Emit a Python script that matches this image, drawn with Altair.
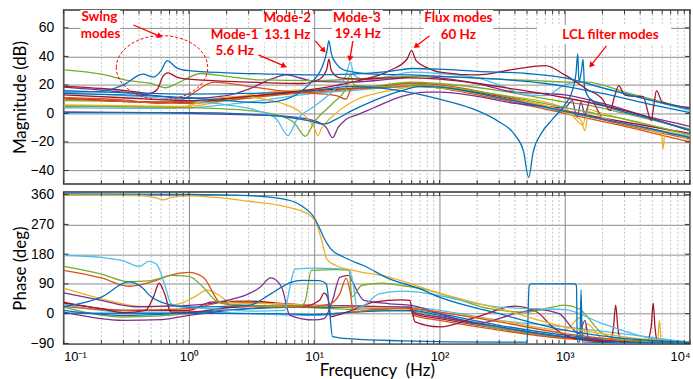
import altair as alt
import pandas as pd

BLUE, ORANGE, YELLOW, PURPLE = "#0072BD", "#D95319", "#EDB120", "#7E2F8E"
GREEN, CYAN, RED = "#77AC30", "#4DBEEE", "#A2142F"
ANN = "#FF0000"

# ---------------- magnitude curves: (frequency Hz, dB) ----------------
MAG_BLUE_A = [(0.1,15),(0.2,15.5),(0.3,20),(0.43,27.5),(0.52,25.5),(0.6,30),(0.67,37),(0.8,32),(1,30),(2,28.5),(5,27.5),(10,27),(20,27.5),(40,29.5),(60,31.5),(100,31),(200,29.5),(500,28),(1000,25),(2000,18),(5000,9),(10000,3)]
MAG_BLUE_B = [(0.1,14),(0.3,13),(1,11),(2,9),(4,7.5),(6,10),(9,20),(11.5,32),(12.6,43),(13.1,51),(13.7,42),(15,35),(18,30),(30,27.5),(60,27),(100,26),(300,24),(700,21),(1000,19),(2000,14),(5000,6),(10000,0.5)]
MAG_RED_A = [(0.1,19),(0.2,17.5),(0.35,15.5),(0.48,14),(0.56,17),(0.62,26),(0.68,28.5),(0.8,25.5),(1,24),(3,22),(8,21),(11,24),(12.6,31),(13.1,38),(13.7,30),(16,25),(25,24),(40,25),(60,25),(100,24),(200,21),(400,17),(1000,11),(3000,2),(10000,-12)]
MAG_RED_B = [(0.1,13),(0.3,11),(1,9),(3,12),(10,17),(20,22),(40,30),(55,38),(60,44),(65,37),(80,32),(100,29),(200,27),(400,31),(700,33.5),(1000,27),(1500,17),(2000,10),(2300,2),(2500,12),(2700,19.5),(3000,13),(3500,12),(4200,12),(4900,-5),(5150,6),(5400,16),(6000,8),(10000,4)]
MAG_GREEN_A = [(0.1,30.5),(0.2,27.5),(0.33,23),(0.5,21),(0.65,18),(0.8,21),(1.25,28),(2,26),(3.7,23.5),(10,23),(20,24),(60,26),(100,26),(300,24),(600,23),(1000,22),(1500,22),(3000,15),(10000,3)]
MAG_CYAN_A = [(0.1,14),(0.3,12.5),(1,9),(2,6),(3.5,2),(5,-4),(6.2,-15.5),(7.2,-5),(10,5),(15,18),(18,27),(19.4,36),(20.8,27),(25,24),(40,26),(60,29),(100,28),(200,25),(300,20),(500,13),(700,12.5),(1000,20),(1300,22),(2000,18),(5000,9),(10000,2)]
MAG_GREEN_B = [(0.1,5),(0.5,4.5),(1,4),(3,2),(5,-1),(7,-7),(8.5,-16),(10,-6),(14,7),(18,18),(19.4,27),(20.8,20),(25,19),(40,19),(70,20),(100,19),(300,13),(1000,4),(3000,-4),(10000,-15)]
MAG_YELLOW_A = [(0.1,5.5),(0.5,4.5),(0.8,4),(1.5,10),(2.5,12),(4,10),(6,6),(8,0),(10,-10),(10.7,-15.5),(11.5,-10),(14,-2),(20,8),(40,16),(70,19),(100,18),(300,11),(1000,1),(1350,-5),(1450,-12),(1550,1),(2000,-3),(5000,-12),(5900,-14),(6100,-25),(6300,-13),(10000,-19)]
MAG_BLUE_C = [(0.1,0.5),(1,0.5),(3,-0.5),(6,-2.5),(9,-5),(12,-7.5),(15,-4),(20,2),(30,9),(50,16),(70,19),(100,18.5),(300,11),(1000,1.5),(3000,-7),(10000,-17)]
MAG_PURPLE_A = [(0.1,18.5),(0.3,15),(0.6,12),(1,10.5),(2,12.5),(3,17),(4.5,24),(6,27),(8,24.5),(10,22.5),(20,22),(40,24),(70,26),(100,25),(200,21),(400,15),(700,14),(1000,13),(2000,7),(5000,-3),(10000,-9)]
MAG_PURPLE_B = [(0.1,1),(0.5,0.5),(1,0),(3,-1),(6,-2),(10,-5),(12.5,-10),(14,-17),(15.5,-10),(18,-4),(22,-1),(30,4),(50,12),(80,15),(100,15),(200,12),(400,7),(700,5),(1000,4),(1150,9),(1250,-3),(1350,8),(1450,-1),(1600,10),(2000,-3),(5000,-11),(10000,-17)]
MAG_ORANGE_A = [(0.1,11),(0.3,9.5),(0.6,7),(0.9,10),(1.6,22),(3,19),(6,15.5),(10,14),(15,12.5),(18,10),(19.4,16),(21,19),(30,19),(60,21),(100,20),(300,12.5),(1000,2),(3000,-8),(10000,-18)]
MAG_ORANGE_B = [(0.1,10),(0.3,8.5),(1,7),(2,9),(4,12),(10,15),(20,17),(50,19),(70,20),(100,18),(300,10),(1000,0),(3000,-9),(10000,-20)]
MAG_CYAN_B = [(0.1,4),(0.5,3.5),(1,4),(3,8),(10,14),(20,16),(60,19),(100,18),(300,11),(1000,1),(3000,-7),(10000,-16)]
MAG_RED_C = [(0.1,11),(0.5,8),(1,8),(3,12),(10,16),(30,18),(60,19),(100,18),(300,12),(1000,2),(3000,-6),(10000,-14)]
MAG_BLUE_D = [(0.1,16),(0.5,14),(1,13.5),(3,14),(10,16),(20,19),(40,17),(100,10),(200,2),(300,-6),(400,-15),(470,-27),(515,-45),(560,-27),(650,-14),(800,-4),(1000,6),(1150,16),(1230,28),(1270,42),(1300,22),(1360,30),(1400,38),(1440,18),(1600,10),(2000,6),(5000,-4),(10000,-12)]
MAG_YELLOW_B = [(0.1,6),(1,5),(1.5,7),(3,13),(10,17),(30,18),(60,19),(100,18),(300,13),(1000,4),(1400,-8),(1500,3),(2000,0),(5000,-9),(10000,-15)]
MAG_GREEN_C = [(0.1,9),(1,8),(3,11),(10,16),(30,19),(60,22),(100,21),(300,16),(1000,8),(1500,6),(3000,0),(10000,-11)]

MAG_CURVES = [
    (GREEN, MAG_GREEN_C), (YELLOW, MAG_YELLOW_B), (RED, MAG_RED_C), (CYAN, MAG_CYAN_B),
    (ORANGE, MAG_ORANGE_B), (ORANGE, MAG_ORANGE_A), (PURPLE, MAG_PURPLE_B), (PURPLE, MAG_PURPLE_A),
    (YELLOW, MAG_YELLOW_A), (GREEN, MAG_GREEN_B), (CYAN, MAG_CYAN_A), (GREEN, MAG_GREEN_A),
    (RED, MAG_RED_A), (BLUE, MAG_BLUE_D), (RED, MAG_RED_B), (BLUE, MAG_BLUE_A),
    (BLUE, MAG_BLUE_B), (BLUE, MAG_BLUE_C),
]

# ---------------- phase curves: (frequency Hz, deg) ----------------
PH_BLUE_A = [(0.1,362),(1,361),(3,357),(6,345),(8,325),(10,290),(11,260),(12,228),(13.5,197),(17,172),(25,145),(40,105),(70,75),(100,50),(300,0),(1000,-50),(3000,-75),(10000,-87)]
PH_YELLOW_A = [(0.1,358),(0.4,357),(0.55,350),(0.63,344),(0.72,352),(1,356),(3,340),(6,323),(9,300),(10.5,270),(11.5,220),(12.6,165),(15,145),(20,132),(40,110),(100,62),(300,15),(1000,-40),(3000,-70),(10000,-87)]
PH_CYAN_A = [(0.1,176),(0.2,170),(0.3,160),(0.4,143),(0.48,158),(0.55,150),(0.65,80),(0.72,30),(0.9,22),(1.5,15),(3,8),(5.8,10),(6.4,80),(7,135),(10,138),(15,136),(19,133),(20.5,90),(22,17),(25,25),(33,60),(50,68),(100,55),(150,40),(300,20),(600,15),(1000,12),(2000,-30),(5000,-75),(10000,-85)]
PH_GREEN_A = [(0.1,143),(0.2,120),(0.33,97),(0.5,100),(0.6,108),(0.72,116),(1,113),(1.3,80),(1.7,36),(2.5,27),(5,22),(8,24),(8.5,40),(9.5,131),(15,133),(19,132),(20,51),(24,86),(35,92),(50,85),(80,72),(150,40),(250,15),(500,5),(800,20),(1000,26),(1300,15),(2000,-60),(3000,-80),(10000,-88)]
PH_ORANGE_A = [(0.1,131),(0.2,108),(0.33,83),(0.55,101),(0.7,116),(1,125),(1.3,110),(1.8,32),(3,22),(8,20),(13,28),(16,60),(18,107),(19.5,60),(20.5,5),(30,12),(60,15),(100,5),(300,-25),(1000,-60),(3000,-80),(10000,-88)]
PH_BLUE_B = [(0.1,21),(0.2,50),(0.33,96),(0.42,80),(0.5,51),(0.6,35),(1,20),(3,25),(4.5,60),(6.5,95),(8,101),(11,100),(12.5,90),(13.2,20),(14,-69),(20,-76),(50,-82),(120,-85),(300,-86),(500,-86),(520,85),(540,90),(1200,90),(1240,85),(1260,-85),(1320,-85),(1350,72),(1380,-85),(3000,-88),(10000,-89)]
PH_RED_A = [(0.1,32),(0.2,15),(0.3,3),(0.45,10),(0.52,50),(0.58,92),(0.64,60),(0.72,5),(1,5),(2,18),(4,22),(8,22),(11,40),(12,62),(12.8,50),(13.6,-9),(15,-5),(20,10),(30,35),(50,42),(58,40),(61,0),(64,-25),(100,-40),(200,-10),(400,23),(600,5),(800,-40),(1200,-75),(2300,-85),(2450,-40),(2550,26),(2650,-40),(2800,-85),(4500,-85),(4900,-40),(5080,32),(5250,-40),(5500,-85),(10000,-88)]
PH_PURPLE_A = [(0.1,63),(0.2,40),(0.37,21),(1,25),(2,40),(3.7,80),(4.5,108),(5.5,80),(6.4,-5),(10,-19),(12,-15),(14,40),(16,110),(19,116),(20,100),(25,40),(40,30),(60,25),(100,0),(200,-30),(400,0),(600,12),(900,0),(1300,-60),(1450,-20),(1550,-75),(3000,-85),(10000,-88)]
PH_YELLOW_B = [(0.1,77),(0.2,45),(0.45,21),(0.8,28),(1.1,50),(1.4,71),(1.7,58),(2.2,33),(5,30),(10,25),(20,20),(60,15),(100,5),(300,-20),(1000,-50),(1350,-10),(1400,-70),(1500,-30),(2000,-75),(5500,-85),(5700,-20),(5900,-85),(10000,-89)]
PH_BLUE_C = [(0.1,10),(0.3,-5),(1,3),(3,15),(10,20),(30,18),(60,15),(100,0),(300,-35),(1000,-65),(3000,-82),(10000,-88)]
PH_PURPLE_B = [(0.1,5),(0.3,-20),(0.6,-18),(1,-5),(3,15),(10,25),(30,22),(60,18),(62,5),(100,-10),(300,-40),(1000,-70),(10000,-89)]
PH_ORANGE_B = [(0.1,22),(0.3,10),(1,15),(2,35),(4,32),(10,20),(30,18),(58,15),(62,-5),(100,-20),(300,-50),(1000,-75),(10000,-89)]
PH_GREEN_B = [(0.1,20),(0.3,-10),(1,0),(3,25),(10,18),(30,10),(60,8),(100,-10),(300,-45),(1000,-72),(10000,-89)]
PH_RED_B = [(0.1,35),(0.3,10),(1,10),(1.5,35),(3,38),(6,30),(10,25),(30,20),(58,20),(62,0),(100,-15),(300,-45),(1000,-70),(10000,-89)]
PH_CYAN_B = [(0.1,28),(0.3,5),(1,5),(3,0),(10,-5),(30,10),(60,20),(100,10),(300,-20),(1000,-40),(10000,-87)]
PH_BLUE_D = [(0.1,2),(1,1),(5,0),(10,-3),(20,5),(60,10),(100,-5),(300,-40),(1000,-70),(10000,-89)]

PH_CURVES = [
    (CYAN, PH_CYAN_B), (RED, PH_RED_B), (GREEN, PH_GREEN_B), (ORANGE, PH_ORANGE_B),
    (PURPLE, PH_PURPLE_B), (BLUE, PH_BLUE_C), (BLUE, PH_BLUE_D), (YELLOW, PH_YELLOW_B),
    (PURPLE, PH_PURPLE_A), (RED, PH_RED_A), (ORANGE, PH_ORANGE_A), (GREEN, PH_GREEN_A),
    (CYAN, PH_CYAN_A), (BLUE, PH_BLUE_B), (YELLOW, PH_YELLOW_A), (BLUE, PH_BLUE_A),
]

# ---------------- annotations (frequency Hz, dB) ----------------
ANN_TEXT = ["Swing", "modes", "Mode-1", "5.6 Hz", "Mode-2", "13.1 Hz", "Mode-3", "19.4 Hz", "Flux modes", "60 Hz", "LCL filter modes"]
ANN_F = [0.193, 0.197, 2.32, 2.32, 6.1, 6.1, 21.9, 22.3, 141.6, 141.6, 2317]
ANN_DB = [67.6, 56.0, 55.3, 43.7, 66.9, 55.3, 66.9, 55.8, 66.9, 55.3, 54.9]
BOX_F = [0.136, 1.468, 3.86, 13.9, 74.6, 600]
BOX_F2 = [0.283, 3.66, 9.64, 35.3, 268.3, 7063]
BOX_DB = [72.5, 59.2, 72.5, 72.5, 72.5, 62.0]
BOX_DB2 = [50.2, 37.6, 49.5, 50.2, 50.2, 48.8]
ARROW_F = [0.36, 3.59, 10.2, 20.4, 83.4, 2153]
ARROW_DB = [62.0, 41.1, 50.9, 50.9, 54.4, 47.4]
ARROW_F2 = [0.578, 5.68, 11.8, 19.3, 65.6, 1637]
ARROW_DB2 = [54.4, 33.5, 44.6, 39.0, 47.4, 34.2]
ARROW_ANGLE = [113, 114, 138, 190, 232, 218]
ELLIPSE_F, ELLIPSE_DB = [0.61], [32.1]

MAJOR = [0.1, 1, 10, 100, 1000, 10000]
MINOR = [k * d for d in [0.1, 1, 10, 100, 1000] for k in range(2, 10)]
MAG_TICKS = [-40, -20, 0, 20, 40, 60]
PH_TICKS = [-90, 0, 90, 180, 270, 360]
MAG_DOMAIN = [-49.5, 72.5]
PH_DOMAIN = [-92, 368]

W, H_MAG, H_PH = 630, 175, 153
GRID = "#8c8c8c"


def curves_df(curves):
    rows = []
    for i, (col, pts) in enumerate(curves):
        for j, (f, v) in enumerate(pts):
            rows.append({"id": i, "col": col, "o": j, "f": f, "v": v})
    return pd.DataFrame(rows)


def panel(curves, ydom, yticks, ytitle, height, bottom):
    df = curves_df(curves)
    xscale = alt.Scale(type="log", domain=[0.1, 10000], nice=False)
    yscale = alt.Scale(domain=ydom, nice=False, zero=False)
    if bottom:
        xaxis = alt.Axis(values=MAJOR, grid=True, gridColor=GRID, gridWidth=1,
                         ticks=False, domain=False, labelFlush=True,
                         labelExpr="['10⁻¹','10⁰','10¹','10²','10³','10⁴'][round(log(datum.value)/LN10)+1]",
                         labelFont="Liberation Sans", labelFontSize=13, labelColor="#000",
                         labelPadding=6, titleFont="Lato", titleFontSize=17,
                         titleFontWeight="normal", titleColor="#000", titlePadding=0,
                         minExtent=19, maxExtent=19)
        X = lambda fld: alt.X(fld, scale=xscale, axis=xaxis, title="Frequency\u00a0\u00a0(Hz)")
    else:
        xaxis = alt.Axis(values=MAJOR, grid=True, gridColor=GRID, gridWidth=1,
                         ticks=False, domain=False, labels=False, labelPadding=0,
                         minExtent=0, maxExtent=0)
        X = lambda fld: alt.X(fld, scale=xscale, axis=xaxis, title=None)
    yaxis = alt.Axis(values=yticks, grid=True, gridColor=GRID, gridWidth=1,
                     ticks=False, domain=False, labelFont="Liberation Sans",
                     labelFontSize=14, labelColor="#000", labelPadding=10,
                     titleFont="Lato", titleFontSize=17, titleFontWeight="normal",
                     titleColor="#000", titlePadding=0, minExtent=34, maxExtent=34)
    Y = lambda fld: alt.Y(fld, scale=yscale, axis=yaxis, title=ytitle)

    minor_df = pd.DataFrame({"f": MINOR})
    tick_df = pd.DataFrame({"f": MINOR + MAJOR})
    ytick_df = pd.DataFrame({"v": yticks})

    minor = alt.Chart(minor_df).mark_rule(color="#c2c2c2", strokeDash=[2, 2], strokeWidth=1).encode(x=X("f:Q"))
    lines = alt.Chart(df).mark_line(strokeWidth=1.3, interpolate="monotone", clip=True).encode(
        x=X("f:Q"), y=Y("v:Q"),
        color=alt.Color("col:N", scale=None),
        detail="id:N",
        order="o:Q")
    ttop = alt.Chart(tick_df).mark_rule(color="#333", strokeWidth=1).encode(
        x=X("f:Q"), y=alt.value(0), y2=alt.value(4))
    tbot = alt.Chart(tick_df).mark_rule(color="#333", strokeWidth=1).encode(
        x=X("f:Q"), y=alt.value(height), y2=alt.value(height - 4))
    yl = alt.Chart(ytick_df).mark_rule(color="#333", strokeWidth=1).encode(
        y=Y("v:Q"), x=alt.value(0), x2=alt.value(5))
    yr = alt.Chart(ytick_df).mark_rule(color="#333", strokeWidth=1).encode(
        y=Y("v:Q"), x=alt.value(W), x2=alt.value(W - 5))

    layers = [minor]
    extra = []
    if not bottom:
        box_df = pd.DataFrame({"f": BOX_F, "f2": BOX_F2, "v": BOX_DB, "v2": BOX_DB2})
        boxes = alt.Chart(box_df).mark_rect(color="white", clip=True).encode(
            x=X("f:Q"), x2="f2:Q", y=Y("v:Q"), y2="v2:Q")
        layers.append(boxes)
        txt_df = pd.DataFrame({"f": ANN_F, "v": ANN_DB, "t": ANN_TEXT})
        texts = alt.Chart(txt_df).mark_text(font="Lato", fontWeight="bold", fontSize=13.5,
                                            color=ANN).encode(x=X("f:Q"), y=Y("v:Q"), text="t:N")
        arr_df = pd.DataFrame({"f": ARROW_F, "v": ARROW_DB, "f2": ARROW_F2, "v2": ARROW_DB2,
                               "a": ARROW_ANGLE})
        shafts = alt.Chart(arr_df).mark_rule(color=ANN, strokeWidth=1.3).encode(
            x=X("f:Q"), x2="f2:Q", y=Y("v:Q"), y2="v2:Q")
        heads = alt.Chart(arr_df).mark_point(shape="triangle", filled=True, color=ANN, size=40,
                                             opacity=1).encode(
            x=X("f2:Q"), y=Y("v2:Q"), angle=alt.Angle("a:Q", scale=None))
        ell_df = pd.DataFrame({"f": ELLIPSE_F, "v": ELLIPSE_DB})
        ellipse = alt.Chart(ell_df).mark_point(
            shape="M-1,0A1,0.7,0,1,1,1,0A1,0.7,0,1,1,-1,0Z", size=8464, filled=False,
            color=ANN, strokeDash=[3, 2], strokeWidth=1, opacity=1).encode(
            x=X("f:Q"), y=Y("v:Q"))
        extra = [texts, shafts, heads, ellipse]
    layers += [lines, ttop, tbot, yl, yr] + extra
    return alt.layer(*layers).properties(width=W, height=height)


top = panel(MAG_CURVES, MAG_DOMAIN, MAG_TICKS, "Magnitude (dB)", H_MAG, False)
bot = panel(PH_CURVES, PH_DOMAIN, PH_TICKS, "Phase (deg)", H_PH, True)

chart = alt.vconcat(top, bot, spacing=8, bounds="flush").properties(
    padding={"left": 11, "top": 7, "right": 1, "bottom": 0},
    background="white",
).configure_view(stroke="#333333", strokeWidth=1.5)

chart.save("out.html", embed_options={"renderer": "svg", "actions": False})
